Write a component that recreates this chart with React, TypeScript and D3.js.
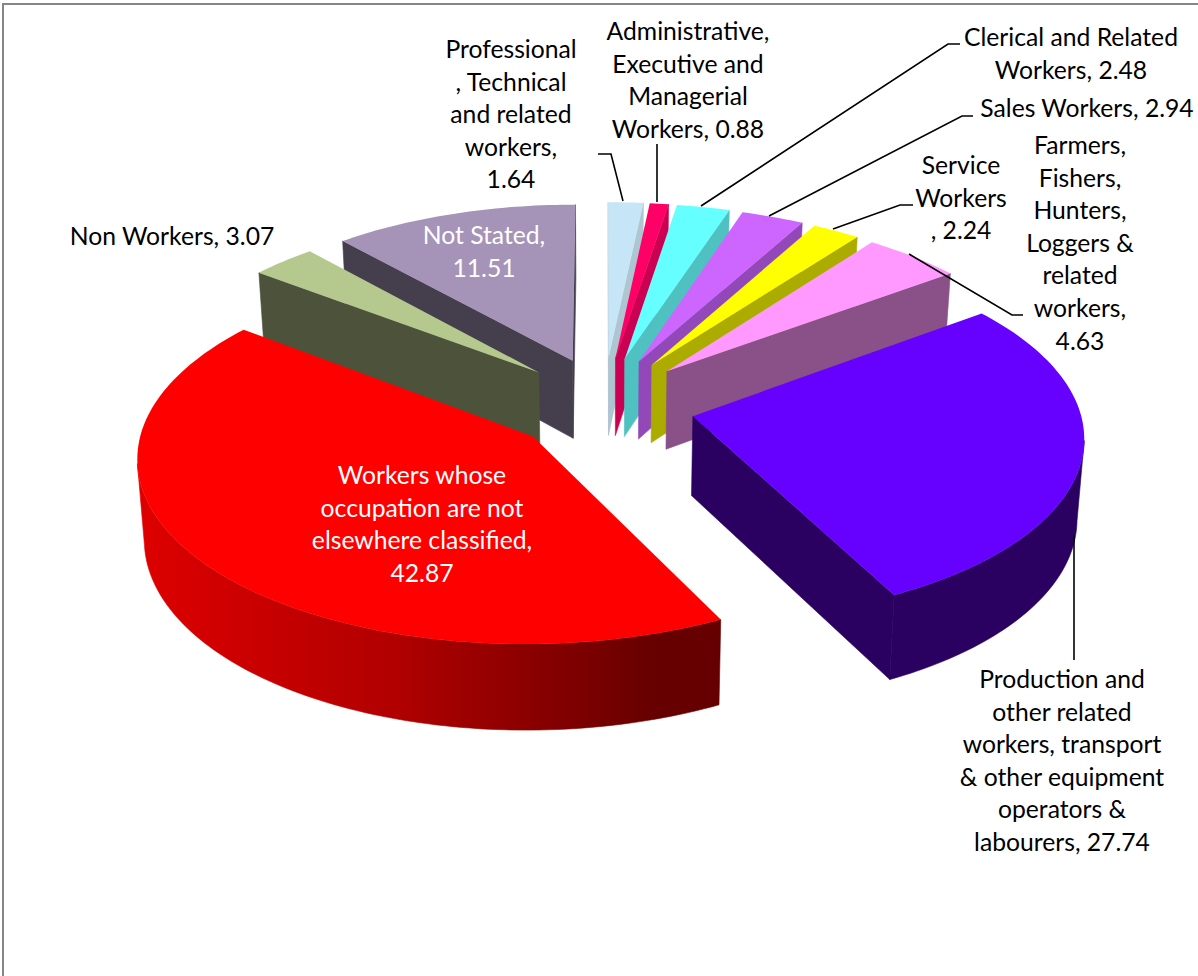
import React from "react";
import * as d3 from "d3";

const width = 1198;
const height = 976;

// occupation shares, clockwise from 12 o'clock
const categories = [
  "Professional, Technical and related workers",
  "Administrative, Executive and Managerial Workers",
  "Clerical and Related Workers",
  "Sales Workers",
  "Service Workers",
  "Farmers, Fishers, Hunters, Loggers & related workers",
  "Production and other related workers, transport & other equipment operators & labourers",
  "Workers whose occupation are not elsewhere classified",
  "Non Workers",
  "Not Stated",
];
const values = [1.64, 0.88, 2.48, 2.94, 2.24, 4.63, 27.74, 42.87, 3.07, 11.51];
const topColors = ["#C6E5F7", "#FF0066", "#66FFFF", "#CC66FF", "#FFFF00", "#FF99FF", "#6600FF", "#FF0000", "#B5C98E", "#A593B8"];
const sideColors = ["#AEC5D2", "#CC0052", "#4FC1C1", "#9248B8", "#ABAB00", "#8A5088", "#2A0060", "url(#redRim)", "#4D533A", "#453F4D"];

// back slices first, then left to right so nearer slices overlap
const drawOrder = [9, 8, 7, 0, 1, 2, 3, 4, 5, 6];

const labelLines = [
  ["Professional", ", Technical", "and related", "workers,", "1.64"],
  ["Administrative,", "Executive and", "Managerial", "Workers, 0.88"],
  ["Clerical and Related", "Workers, 2.48"],
  ["Sales Workers, 2.94"],
  ["Service", "Workers", ", 2.24"],
  ["Farmers,", "Fishers,", "Hunters,", "Loggers &", "related", "workers,", "4.63"],
  ["Production and", "other related", "workers, transport", "& other equipment", "operators &", "labourers, 27.74"],
  ["Workers whose", "occupation are not", "elsewhere classified,", "42.87"],
  ["Non Workers, 3.07"],
  ["Not Stated,", "11.51"],
];
const labelX = [511, 688, 1071, 1087, 961, 1080, 1062, 422, 172, 484];
const labelY = [58, 40, 46, 117, 174, 154, 688, 484, 245, 244];
const labelFill = ["#000", "#000", "#000", "#000", "#000", "#000", "#000", "#fff", "#000", "#fff"];

const leaders: [number, number][][] = [
  [[598, 154], [611, 154], [623, 201]],
  [[657, 144], [657, 202]],
  [[960, 44], [948, 44], [701, 206]],
  [[973, 116], [962, 116], [769, 216]],
  [[913, 205], [900, 205], [833, 229]],
  [[909, 254], [1012, 315], [1023, 315]],
  [[1074, 535], [1074, 660]],
];

// perspective of the pie plane
const cx = 604;
const cy = 405;
const scaleX = 386;
const scaleY = 180;
const persp = 0.1;
const explodeX = 0.235;
const explodeY = 0.27;
const depth = 79;

type Pt = [number, number];

const project = (u: number, v: number, bottom = false): Pt => {
  const w = 1 + persp * v;
  const sx = cx + (scaleX * u) / w;
  const sy = cy - (scaleY * v) / w;
  if (!bottom) return [sx, sy];
  return [cx + (sx - cx) * 0.985, sy + depth / (1 + 0.07 * v)];
};

const lineGen = d3.line<Pt>();
const closed = (pts: Pt[]) => lineGen(pts) + "Z";

const shoelace = (pts: Pt[]) =>
  d3.sum(pts, (p, i) => {
    const q = pts[(i + 1) % pts.length];
    return p[0] * q[1] - q[0] * p[1];
  });

const pieGen = d3.pie<number>().sort(null).startAngle(0).endAngle(2 * Math.PI);

const slices = pieGen(values).map((d) => {
  const mid = (d.startAngle + d.endAngle) / 2;
  const ou = explodeX * Math.sin(mid);
  const ov = explodeY * Math.cos(mid);
  const rimAt = (a: number) => [ou + Math.sin(a), ov + Math.cos(a)] as Pt;
  const steps = Math.max(4, Math.ceil((d.endAngle - d.startAngle) / 0.02));
  const angles = d3.range(steps + 1).map((i) => d.startAngle + ((d.endAngle - d.startAngle) * i) / steps);

  const top = [project(ou, ov), ...angles.map((a) => project(...rimAt(a)))];

  const wall = (a: number): Pt[] => [
    project(ou, ov),
    project(...rimAt(a)),
    project(...rimAt(a), true),
    project(ou, ov, true),
  ];
  const walls: Pt[][] = [];
  const startWall = wall(d.startAngle);
  const endWall = wall(d.endAngle);
  if (shoelace(startWall) < 0) walls.push(startWall);
  if (shoelace(endWall) > 0) walls.push(endWall);

  // outer rim: only the part turning towards the viewer
  const visible = angles.filter((a, i) => {
    const next = angles[i + 1] ?? a + 0.001;
    return project(...rimAt(next))[0] < project(...rimAt(a))[0] && Math.cos(a) < 0.3;
  });
  const rim: Pt[] =
    visible.length > 1
      ? [
          ...visible.map((a) => project(...rimAt(a))),
          ...visible.map((a) => project(...rimAt(a), true)).reverse(),
        ]
      : [];
  return { top, walls, rim };
});

export default function App() {
  return (
    <svg
      width={width}
      height={height}
      style={{ position: "absolute", left: 0, top: 0, background: "#fff" }}
      fontFamily="Lato, 'Open Sans', sans-serif"
      fontSize={24.7}
    >
      <defs>
        <linearGradient id="redRim" gradientUnits="userSpaceOnUse" x1={140} x2={715} y1={0} y2={0}>
          <stop offset="0" stopColor="#DE0000" />
          <stop offset="0.45" stopColor="#B00000" />
          <stop offset="0.9" stopColor="#660000" />
          <stop offset="1" stopColor="#660000" />
        </linearGradient>
      </defs>
      <line x1={3} x2={3} y1={3} y2={height} stroke="#868686" strokeWidth={2} />
      <line x1={2} x2={width} y1={4} y2={4} stroke="#868686" strokeWidth={2} />

      {drawOrder.map((i) => (
        <g key={categories[i]}>
          {slices[i].walls.map((w, j) => (
            <path
              key={j}
              d={closed(w)}
              fill={i === 7 ? "#660000" : sideColors[i]}
              stroke={i === 7 ? "#660000" : sideColors[i]}
              strokeWidth={0.6}
            />
          ))}
          {slices[i].rim.length > 0 && (
            <path d={closed(slices[i].rim)} fill={sideColors[i]} stroke={sideColors[i]} strokeWidth={0.6} />
          )}
          <path d={closed(slices[i].top)} fill={topColors[i]} />
        </g>
      ))}

      {leaders.map((pts, i) => (
        <path key={i} d={lineGen(pts) ?? ""} fill="none" stroke="#000" strokeWidth={1.6} />
      ))}

      {labelLines.map((lines, i) => (
        <text key={i} textAnchor="middle" fill={labelFill[i]}>
          {lines.map((t, j) => (
            <tspan key={j} x={labelX[i]} y={labelY[i] + j * 32.6}>
              {t}
            </tspan>
          ))}
        </text>
      ))}
    </svg>
  );
}
